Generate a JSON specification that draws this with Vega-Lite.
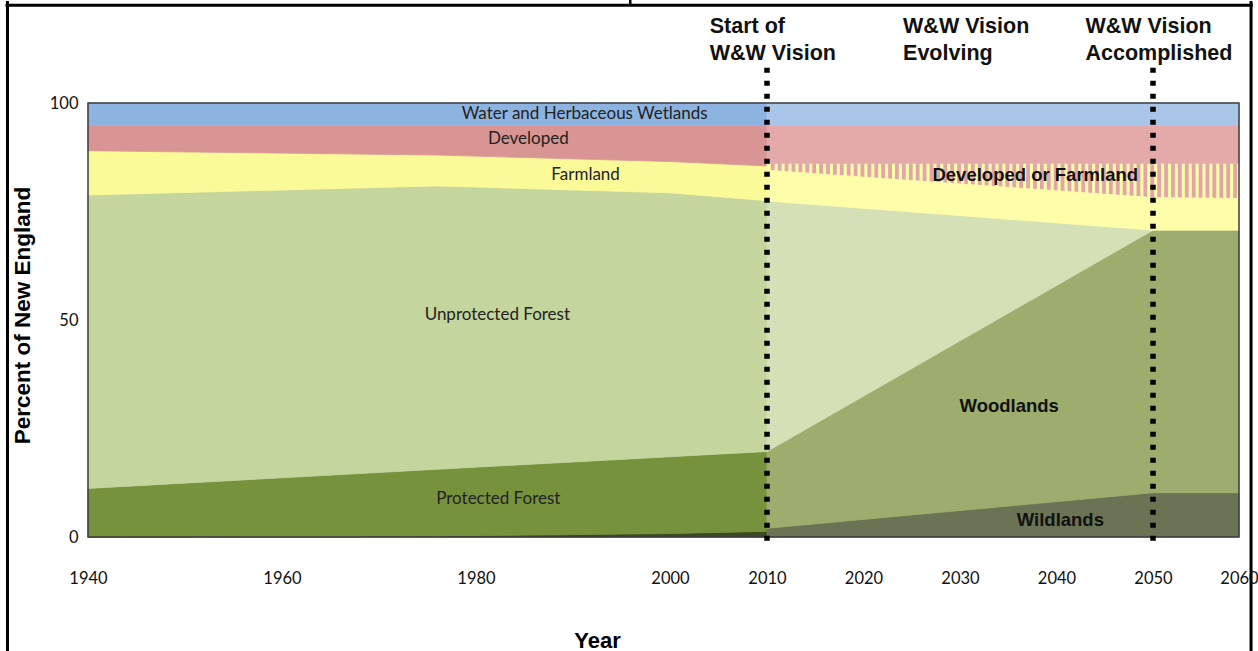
{
  "$schema": "https://vega.github.io/schema/vega-lite/v6.json",
  "width": 1151,
  "height": 434,
  "autosize": {"type": "none"},
  "padding": {"left": 88, "top": 103, "right": 19, "bottom": 114},
  "background": "white",
  "config": {"view": {"stroke": null}},
  "datasets": {
    "areas": [
      {"s": "Wildlands-h", "yr": 1940, "lo": 0, "hi": 0},
      {"s": "Wildlands-h", "yr": 1976, "lo": 0, "hi": 0.2},
      {"s": "Wildlands-h", "yr": 2000, "lo": 0, "hi": 0.8},
      {"s": "Wildlands-h", "yr": 2010, "lo": 0, "hi": 1.3},
      {"s": "Protected-h", "yr": 1940, "lo": 0, "hi": 11.2},
      {"s": "Protected-h", "yr": 1976, "lo": 0.2, "hi": 15.6},
      {"s": "Protected-h", "yr": 2000, "lo": 0.8, "hi": 18.5},
      {"s": "Protected-h", "yr": 2010, "lo": 1.3, "hi": 19.7},
      {"s": "Unprotected-h", "yr": 1940, "lo": 11.2, "hi": 78.8},
      {"s": "Unprotected-h", "yr": 1976, "lo": 15.6, "hi": 80.9},
      {"s": "Unprotected-h", "yr": 2000, "lo": 18.5, "hi": 79.3},
      {"s": "Unprotected-h", "yr": 2010, "lo": 19.7, "hi": 77.5},
      {"s": "Farmland-h", "yr": 1940, "lo": 78.8, "hi": 89.0},
      {"s": "Farmland-h", "yr": 1976, "lo": 80.9, "hi": 88.0},
      {"s": "Farmland-h", "yr": 2000, "lo": 79.3, "hi": 86.5},
      {"s": "Farmland-h", "yr": 2010, "lo": 77.5, "hi": 85.5},
      {"s": "Developed-h", "yr": 1940, "lo": 89.0, "hi": 94.9},
      {"s": "Developed-h", "yr": 1976, "lo": 88.0, "hi": 94.9},
      {"s": "Developed-h", "yr": 2000, "lo": 86.5, "hi": 94.9},
      {"s": "Developed-h", "yr": 2010, "lo": 85.5, "hi": 94.9},
      {"s": "Water-h", "yr": 1940, "lo": 94.9, "hi": 100},
      {"s": "Water-h", "yr": 2010, "lo": 94.9, "hi": 100},
      {"s": "Wildlands-f", "yr": 2010, "lo": 0, "hi": 2.0},
      {"s": "Wildlands-f", "yr": 2050, "lo": 0, "hi": 10.2},
      {"s": "Wildlands-f", "yr": 2060, "lo": 0, "hi": 10.2},
      {"s": "Woodlands-f", "yr": 2010, "lo": 2.0, "hi": 19.7},
      {"s": "Woodlands-f", "yr": 2050, "lo": 10.2, "hi": 70.7},
      {"s": "Woodlands-f", "yr": 2060, "lo": 10.2, "hi": 70.7},
      {"s": "Unprotected-f", "yr": 2010, "lo": 19.7, "hi": 77.4},
      {"s": "Unprotected-f", "yr": 2050, "lo": 70.7, "hi": 70.7},
      {"s": "Hatch-f", "yr": 2010, "lo": 84.5, "hi": 86.1},
      {"s": "Hatch-f", "yr": 2050, "lo": 78.2, "hi": 86.1},
      {"s": "Hatch-f", "yr": 2060, "lo": 78.0, "hi": 86.1},
      {"s": "Farmland-f", "yr": 2010, "lo": 77.4, "hi": 84.5},
      {"s": "Farmland-f", "yr": 2050, "lo": 70.7, "hi": 78.2},
      {"s": "Farmland-f", "yr": 2060, "lo": 70.7, "hi": 78.0},
      {"s": "Developed-f", "yr": 2010, "lo": 86.1, "hi": 94.9},
      {"s": "Developed-f", "yr": 2060, "lo": 86.1, "hi": 94.9},
      {"s": "Water-f", "yr": 2010, "lo": 94.9, "hi": 100},
      {"s": "Water-f", "yr": 2060, "lo": 94.9, "hi": 100}
    ],
    "labels": [
      {"t": "Water and Herbaceous Wetlands", "yr": 1991.2, "lo": 97.5, "k": "n"},
      {"t": "Developed", "yr": 1985.4, "lo": 91.7, "k": "n"},
      {"t": "Farmland", "yr": 1991.3, "lo": 83.4, "k": "n"},
      {"t": "Unprotected Forest", "yr": 1982.2, "lo": 51.2, "k": "n"},
      {"t": "Protected Forest", "yr": 1982.3, "lo": 8.8, "k": "n"},
      {"t": "Developed or Farmland", "yr": 2037.8, "lo": 83.4, "k": "b"},
      {"t": "Woodlands", "yr": 2035.1, "lo": 30.2, "k": "b"},
      {"t": "Wildlands", "yr": 2040.4, "lo": 3.9, "k": "b"},
      {"t": "Start of", "yr": 2004.1, "lo": 116.1, "k": "h"},
      {"t": "W&W Vision", "yr": 2004.1, "lo": 109.9, "k": "h"},
      {"t": "W&W Vision", "yr": 2024.1, "lo": 116.1, "k": "h"},
      {"t": "Evolving", "yr": 2024.1, "lo": 109.9, "k": "h"},
      {"t": "W&W Vision", "yr": 2043.0, "lo": 116.1, "k": "h"},
      {"t": "Accomplished", "yr": 2043.0, "lo": 109.9, "k": "h"}
    ],
    "events": [{"yr": 2010}, {"yr": 2050}],
    "one": [{"k": 1}]
  },
  "layer": [
    {
      "data": {"name": "areas"},
      "transform": [{"filter": "datum.s !== 'Farmland-f'"}],
      "mark": {"type": "area", "interpolate": "linear", "opacity": 1, "strokeWidth": 0.8},
      "encoding": {
        "x": {
          "field": "yr", "type": "quantitative",
          "scale": {"domain": [1940, 2010, 2050, 2060], "range": [0, 679, 1065, 1151], "nice": false, "zero": false},
          "axis": {
            "values": [1940, 1960, 1980, 2000, 2010, 2020, 2030, 2040, 2050, 2060],
            "format": "d", "title": "Year", "domain": false, "ticks": false, "tickSize": 0, "grid": false,
            "labelFont": "Lato", "labelFontSize": 16.5, "labelColor": "#111", "labelPadding": 41,
            "labelBaseline": "middle", "labelOverlap": false, "labelFlush": false, "labelBound": false,
            "titleFont": "Liberation Sans", "titleFontSize": 22, "titleFontWeight": "bold", "titleColor": "#000",
            "titleX": 509, "titleY": 110, "titleAlign": "center", "titleBaseline": "alphabetic"
          }
        },
        "y": {
          "field": "lo", "type": "quantitative",
          "scale": {"domain": [0, 100], "nice": false, "zero": false},
          "axis": {
            "values": [0, 50, 100], "title": "Percent of New England", "domain": false, "ticks": false, "tickSize": 0, "grid": false,
            "labelFont": "Lato", "labelFontSize": 16.5, "labelColor": "#111", "labelPadding": 10,
            "titleFont": "Liberation Sans", "titleFontSize": 22.5, "titleFontWeight": "bold", "titleColor": "#000",
            "titleX": -59, "titleY": 212, "titleAngle": -90, "titleAlign": "center", "titleBaseline": "alphabetic"
          }
        },
        "y2": {"field": "hi"},
        "color": {
          "field": "s", "type": "nominal", "legend": null,
          "scale": {
            "domain": ["Wildlands-h", "Protected-h", "Unprotected-h", "Farmland-h", "Developed-h", "Water-h", "Wildlands-f", "Woodlands-f", "Unprotected-f", "Hatch-f", "Farmland-f", "Developed-f", "Water-f"],
            "range": ["#3b4a22", "#77923c", "#c4d59d", "#fbfa99", "#d99594", "#8db3e1", "#6a7455", "#9cad6d", "#d4e0b6", "#fefdaa", "#fefdaa", "#e4aaaa", "#a9c5e8"]
          }
        },
        "stroke": {
          "field": "s", "type": "nominal", "legend": null,
          "scale": {
            "domain": ["Wildlands-h", "Protected-h", "Unprotected-h", "Farmland-h", "Developed-h", "Water-h", "Wildlands-f", "Woodlands-f", "Unprotected-f", "Hatch-f", "Farmland-f", "Developed-f", "Water-f"],
            "range": ["#3b4a22", "#77923c", "#c4d59d", "#fbfa99", "#d99594", "#8db3e1", "#6a7455", "#9cad6d", "#d4e0b6", "#fefdaa", "#fefdaa", "#e4aaaa", "#a9c5e8"]
          }
        }
      }
    },
    {
      "data": {"name": "one"},
      "mark": {"type": "rule", "color": "#e3a6a8", "strokeWidth": 35.15, "strokeDash": [3.8, 3.1], "strokeCap": "butt"},
      "encoding": {
        "x": {"datum": 2010.4, "type": "quantitative"},
        "x2": {"datum": 2060},
        "y": {"datum": 82.05, "type": "quantitative"}
      }
    },
    {
      "data": {"name": "areas"},
      "transform": [{"filter": "datum.s === 'Farmland-f'"}],
      "mark": {"type": "area", "interpolate": "linear", "opacity": 1, "strokeWidth": 0.8},
      "encoding": {
        "x": {"field": "yr", "type": "quantitative"},
        "y": {"field": "lo", "type": "quantitative"},
        "y2": {"field": "hi"},
        "color": {"field": "s", "type": "nominal", "legend": null},
        "stroke": {"field": "s", "type": "nominal", "legend": null}
      }
    },
    {
      "data": {"name": "labels"},
      "transform": [{"filter": "datum.k === 'n'"}],
      "mark": {"type": "text", "font": "Lato", "fontSize": 17, "color": "#222", "align": "center", "baseline": "middle"},
      "encoding": {
        "x": {"field": "yr", "type": "quantitative"},
        "y": {"field": "lo", "type": "quantitative"},
        "text": {"field": "t"}
      }
    },
    {
      "data": {"name": "labels"},
      "transform": [{"filter": "datum.k === 'b'"}],
      "mark": {"type": "text", "font": "Liberation Sans", "fontSize": 18.5, "fontWeight": "bold", "color": "#111", "align": "center", "baseline": "middle"},
      "encoding": {
        "x": {"field": "yr", "type": "quantitative"},
        "y": {"field": "lo", "type": "quantitative"},
        "text": {"field": "t"}
      }
    },
    {
      "data": {"name": "labels"},
      "transform": [{"filter": "datum.k === 'h'"}],
      "mark": {"type": "text", "font": "Liberation Sans", "fontSize": 21.5, "fontWeight": "bold", "color": "#111", "align": "left", "baseline": "alphabetic"},
      "encoding": {
        "x": {"field": "yr", "type": "quantitative"},
        "y": {"field": "lo", "type": "quantitative"},
        "text": {"field": "t"}
      }
    },
    {
      "data": {"name": "one"},
      "mark": {"type": "rect", "filled": false, "stroke": "#3c3c3c", "strokeWidth": 1.5},
      "encoding": {
        "x": {"datum": 1940, "type": "quantitative"},
        "x2": {"datum": 2060},
        "y": {"datum": 0, "type": "quantitative"},
        "y2": {"datum": 100}
      }
    },
    {
      "data": {"name": "events"},
      "mark": {"type": "rule", "color": "#000", "strokeWidth": 5.5, "strokeDash": [5, 8], "strokeCap": "butt"},
      "encoding": {
        "x": {"field": "yr", "type": "quantitative"},
        "y": {"datum": 108.1, "type": "quantitative"},
        "y2": {"datum": -2.6}
      }
    },
    {
      "data": {"name": "one"},
      "mark": {"type": "rule", "color": "#000", "strokeWidth": 3},
      "encoding": {
        "x": {"datum": 1931.7, "type": "quantitative"},
        "y": {"datum": 123.5, "type": "quantitative"},
        "y2": {"datum": -30}
      }
    },
    {
      "data": {"name": "one"},
      "mark": {"type": "rule", "color": "#000", "strokeWidth": 3},
      "encoding": {
        "x": {"datum": 2061.4, "type": "quantitative"},
        "y": {"datum": 123.5, "type": "quantitative"},
        "y2": {"datum": -30}
      }
    },
    {
      "data": {"name": "one"},
      "mark": {"type": "rule", "color": "#000", "strokeWidth": 3},
      "encoding": {
        "x": {"datum": 1931.5, "type": "quantitative"},
        "x2": {"datum": 2061.6},
        "y": {"datum": 122.5, "type": "quantitative"}
      }
    },
    {
      "data": {"name": "one"},
      "mark": {"type": "rule", "color": "#000", "strokeWidth": 2.5},
      "encoding": {
        "x": {"datum": 1995.9, "type": "quantitative"},
        "y": {"datum": 125, "type": "quantitative"},
        "y2": {"datum": 122.5}
      }
    }
  ]
}
